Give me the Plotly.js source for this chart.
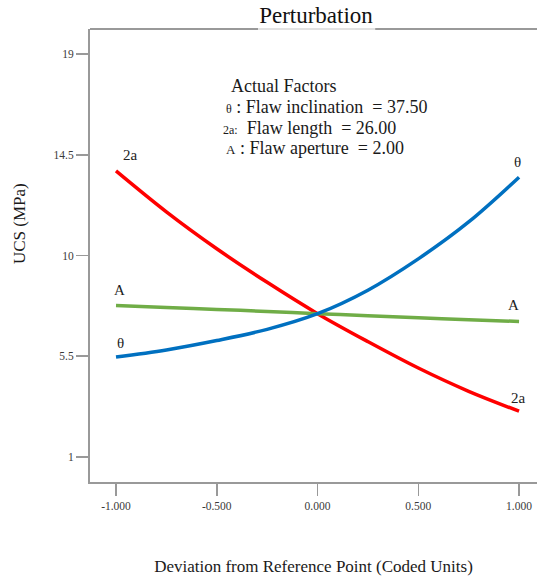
<!DOCTYPE html>
<html>
<head>
<meta charset="utf-8">
<script src="https://cdn.plot.ly/plotly-3.0.1.min.js"></script>
<style>
  html, body { margin: 0; padding: 0; background: #fff; }
  #chart { width: 537px; height: 581px; }
</style>
</head>
<body>
<div id="chart"></div>
<script>
// ---- data ----
const xCoded   = [-1, -0.75, -0.5, -0.25, 0, 0.25, 0.5, 0.75, 1];
const ucsTheta = [5.46, 5.78, 6.2, 6.7, 7.4, 8.45, 9.85, 11.5, 13.5];
const ucs2a    = [13.78, 11.95, 10.3, 8.8, 7.4, 6.15, 4.97, 3.93, 3.04];
const ucsA     = [7.76, 7.68, 7.59, 7.5, 7.4, 7.31, 7.22, 7.13, 7.05];
const xTickVals = [-1, -0.5, 0, 0.5, 1];
const xTickText = ['-1.000', '-0.500', '0.000', '0.500', '1.000'];
const yTickVals = [1, 5.5, 10, 14.5, 19];
const yTickText = ['1', '5.5', '10', '14.5', '19'];

const SERIF = '"Liberation Serif", "Times New Roman", serif';
const lineW = 3.5;

const traces = [
  { x: xCoded, y: ucs2a, mode: 'lines', name: '2a',
    line: { color: '#ff0000', width: lineW, shape: 'spline' } },
  { x: xCoded, y: ucsA, mode: 'lines', name: 'A',
    line: { color: '#70ad47', width: lineW, shape: 'spline' } },
  { x: xCoded, y: ucsTheta, mode: 'lines', name: 'θ',
    line: { color: '#0070c0', width: lineW, shape: 'spline' } }
];

const lblFont = { family: SERIF, size: 15, color: '#222' };
const txtFont = { family: SERIF, size: 18, color: '#1a1a1a' };
const sp = '\u00a0';

const layout = {
  width: 537, height: 581,
  margin: { l: 90, r: 0, t: 29, b: 99 },
  paper_bgcolor: '#fff', plot_bgcolor: '#fff',
  showlegend: false,
  title: {
    text: 'Perturbation',
    font: { family: SERIF, size: 23, color: '#111' },
    x: 316 / 537, xanchor: 'center', xref: 'container',
    y: 1 - 15 / 581, yanchor: 'middle', yref: 'container'
  },
  xaxis: {
    range: [-1.129, 1.089],
    tickvals: xTickVals, ticktext: xTickText,
    showgrid: false, zeroline: false,
    showline: true, linecolor: '#999', linewidth: 2,
    ticks: 'outside', ticklen: 12, tickwidth: 1.5, tickcolor: '#999',
    tickfont: { family: SERIF, size: 11.5, color: '#3a3a3a' },
    title: { text: 'Deviation from Reference Point (Coded Units)',
             font: { family: SERIF, size: 17, color: '#1a1a1a' }, standoff: 49 },
    automargin: false
  },
  yaxis: {
    range: [-0.125, 20.125],
    tickvals: yTickVals, ticktext: yTickText,
    showgrid: false, zeroline: false,
    showline: true, linecolor: '#999', linewidth: 2,
    ticks: 'outside', ticklen: 12, tickwidth: 1.5, tickcolor: '#999',
    tickfont: { family: SERIF, size: 11.5, color: '#3a3a3a' },
    automargin: false
  },
  shapes: [
    { type: 'line', xref: 'paper', yref: 'paper', x0: 0, x1: 0.376, y0: 1, y1: 1,
      line: { color: '#999', width: 2 } },
    { type: 'line', xref: 'paper', yref: 'paper', x0: 0.376, x1: 0.638, y0: 1, y1: 1,
      line: { color: '#e2e2e2', width: 2 } },
    { type: 'line', xref: 'paper', yref: 'paper', x0: 0.638, x1: 1, y0: 1, y1: 1,
      line: { color: '#999', width: 2 } }
  ],
  annotations: [
    // y axis title
    { text: 'UCS (MPa)', textangle: -90, showarrow: false,
      xref: 'paper', yref: 'paper', x: (19 - 90) / 447, y: (482 - 224) / 453,
      xanchor: 'center', yanchor: 'middle', font: { family: SERIF, size: 17, color: '#1a1a1a' } },
    // curve labels
    { text: '2a', x: -0.93, y: 14.5, showarrow: false, font: lblFont },
    { text: 'A', x: -0.985, y: 8.47, showarrow: false, font: lblFont },
    { text: 'θ', x: -0.977, y: 6.10, showarrow: false, font: lblFont },
    { text: 'θ', x: 0.99, y: 14.19, showarrow: false, font: lblFont },
    { text: 'A', x: 0.97, y: 7.79, showarrow: false, font: lblFont },
    { text: '2a', x: 0.995, y: 3.64, showarrow: false, font: lblFont },
    // actual factors block
    { text: 'Actual Factors', xref: 'paper', yref: 'paper', x: 0.311, y: 0.874,
      xanchor: 'left', yanchor: 'middle', showarrow: false, font: txtFont },
    { text: '<span style="font-size:12px">θ</span> : Flaw inclination ' + sp + '= 37.50',
      xref: 'paper', yref: 'paper', x: 0.299, y: 0.828,
      xanchor: 'left', yanchor: 'middle', showarrow: false, font: txtFont },
    { text: '<span style="font-size:12px">2a:</span> ' + sp + 'Flaw length ' + sp + '= 26.00',
      xref: 'paper', yref: 'paper', x: 0.294, y: 0.782,
      xanchor: 'left', yanchor: 'middle', showarrow: false, font: txtFont },
    { text: '<span style="font-size:13px">A</span> : Flaw aperture ' + sp + '= 2.00',
      xref: 'paper', yref: 'paper', x: 0.299, y: 0.737,
      xanchor: 'left', yanchor: 'middle', showarrow: false, font: txtFont }
  ]
};

Plotly.newPlot('chart', traces, layout, { displayModeBar: false, staticPlot: true });
</script>
</body>
</html>
